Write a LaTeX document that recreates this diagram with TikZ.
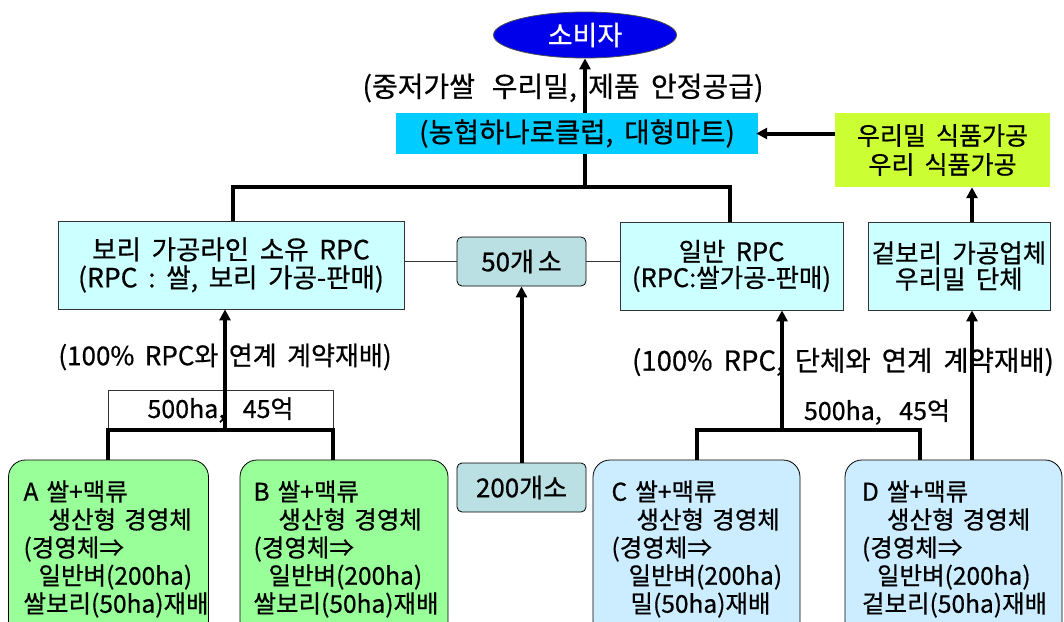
\documentclass[tikz,border=0pt]{standalone}
\usepackage{fontspec}
\setmainfont{Noto Sans CJK KR}[WordSpace=1.8, FakeBold=0.6]
\usetikzlibrary{arrows.meta,shapes.geometric}

\definecolor{consumerblue}{RGB}{0,0,235}
\definecolor{marketcyan}{RGB}{0,204,255}
\definecolor{limefill}{RGB}{204,255,51}
\definecolor{rpcfill}{RGB}{204,255,255}
\definecolor{countfill}{RGB}{187,224,227}
\definecolor{greenfill}{RGB}{153,255,153}
\definecolor{bluefill}{RGB}{204,236,255}

% font size and line distance
\newcommand\fsz[2]{\fontsize{#1}{#2}\selectfont}

\begin{document}
\begin{tikzpicture}[x=1pt,y=-1pt,
  txt/.style={inner sep=0pt},
  rpcbox/.style={draw=black!80, line width=0.8pt, fill=rpcfill, inner sep=0pt,
    align=center},
  countbox/.style={draw=black, line width=0.8pt, fill=countfill, rounded corners=5pt,
    minimum width=129pt, minimum height=49pt, inner sep=0pt, font=\fsz{26}{28}},
  farmbox/.style={draw=black, line width=0.8pt, rounded corners=17pt, align=left,
    inner xsep=15pt, inner ysep=0pt, minimum height=178pt, font=\fsz{24.5}{28}},
  flow/.style={line width=4pt, -{Triangle[length=11pt,width=11pt]}},
  bus/.style={line width=3.5pt, line join=miter},
  thin/.style={line width=0.8pt, draw=black!80}]
\useasboundingbox (0,0) rectangle (1064,621);
\clip (0,0) rectangle (1064,621);
\fill[white] (0,0) rectangle (1064,621);

% top: consumers, retail channel, food processing
\node[ellipse, draw=black!70, line width=0.8pt, fill=consumerblue, text=white,
  minimum width=183pt, minimum height=46pt, inner sep=0pt,
  font=\fsz{27}{28}] (consumer) at (585,35) {소비자};
\node[txt, font=\fsz{28}{28}] (supply) at (563,88) {(중저가쌀\hspace{0.6em}우리밀, 제품 안정공급)};
\node[fill=marketcyan, minimum width=362pt, minimum height=41pt, inner sep=0pt,
  font=\fsz{27.5}{28}] (market) at (577,133.5) {(농협하나로클럽, 대형마트)};
\node[fill=limefill, minimum width=215pt, minimum height=74pt, inner sep=0pt,
  align=center, font=\fsz{25}{29}] (food) at (942.5,150)
  {우리밀 식품가공\\우리 식품가공};

% processing centres
\node[rpcbox, minimum width=346pt, minimum height=88pt, font=\fsz{26.5}{28}] (rpcA) at (231,265)
  {보리 가공라인 소유 RPC\\(RPC : 쌀, 보리 가공-판매)};
\node[rpcbox, minimum width=223pt, minimum height=88pt, font=\fsz{25.5}{26}] (rpcB) at (731.5,266)
  {일반 RPC\\(RPC:쌀가공-판매)};
\node[rpcbox, minimum width=182pt, minimum height=88pt, font=\fsz{25.5}{26}] (hulled) at (959,266)
  {겉보리 가공업체\\우리밀 단체};
\node[countbox] (c50) at (521.5,261.5) {50개\hspace{0.15em}소};
\node[countbox] (c200) at (521.5,487.5) {200개소};

% labels along the contract links
\node[txt, font=\fsz{26}{28}] (contractL) at (225,357) {(100\% RPC와 연계 계약재배)};
\node[txt, font=\fsz{27.5}{28}] (contractR) at (843,362) {(100\% RPC, 단체와 연계 계약재배)};
\node[thin, draw, minimum width=225pt, minimum height=40pt, inner sep=0pt,
  font=\fsz{25}{28}] (areaL) at (220.5,410) {500ha,\hspace{0.7em}45억};
\node[txt, font=\fsz{25}{28}] (areaR) at (877,412) {500ha,\hspace{0.7em}45억};

% farm management bodies
\node[farmbox, fill=greenfill, minimum width=197pt, text width=170pt] (farmA) at (108.5,549)
  {A 쌀+맥류\\\hspace*{25pt}생산형 경영체\\(경영체⇒\\\hspace*{15pt}일반벼(200ha)\\쌀보리(50ha)재배};
\node[farmbox, fill=greenfill, minimum width=208pt, text width=181pt, inner xsep=12pt] (farmB) at (344,549)
  {B 쌀+맥류\\\hspace*{25pt}생산형 경영체\\(경영체⇒\\\hspace*{15pt}일반벼(200ha)\\쌀보리(50ha)재배};
\node[farmbox, fill=bluefill, minimum width=207pt, text width=170pt, inner xsep=18pt] (farmC) at (696.5,549)
  {C 쌀+맥류\\\hspace*{25pt}생산형 경영체\\(경영체⇒\\\hspace*{17pt}일반벼(200ha)\\\hspace*{19pt}밀(50ha)재배};
\node[farmbox, fill=bluefill, minimum width=217pt, text width=183pt, inner xsep=17pt] (farmD) at (953.5,549)
  {D 쌀+맥류\\\hspace*{25pt}생산형 경영체\\(경영체⇒\\\hspace*{15pt}일반벼(200ha)\\겉보리(50ha)재배};

% thin links to the centre count
\draw[thin] (rpcA.east |- c50) -- (c50.west);
\draw[thin] (c50.east) -- (rpcB.west |- c50);

% upper tree into the retail channel
\coordinate (topbus) at (585,187);
\draw[bus] (rpcA.north -| 233,0) |- (topbus) -| (rpcB.north -| 730,0);
\draw[bus] (topbus) -- (market.south -| topbus);
\draw[flow] (market.north -| consumer.south) -- (consumer.south);
\draw[flow] (market.east -| food.west) -- ([xshift=-2pt]market.east);
\draw[flow] (hulled.north -| 972,0) -- (food.south -| 972,0);

% left contract tree
\coordinate (busL) at (225,430);
\draw[bus] (farmA.north -| 108,0) |- (busL) -| (farmB.north -| 333,0);
\draw[flow] (busL) -- (rpcA.south -| busL);

% right contract tree
\coordinate (busR) at (782,430);
\draw[bus] (farmC.north -| 697,0) |- (busR) -| (farmD.north -| 920,0);
\draw[flow] (busR) -- (rpcB.south -| busR);
\draw[flow] (farmD.north -| 972,0) -- (hulled.south -| 972,0);

% count link
\draw[flow] (c200.north) -- (c50.south);
\end{tikzpicture}
\end{document}
